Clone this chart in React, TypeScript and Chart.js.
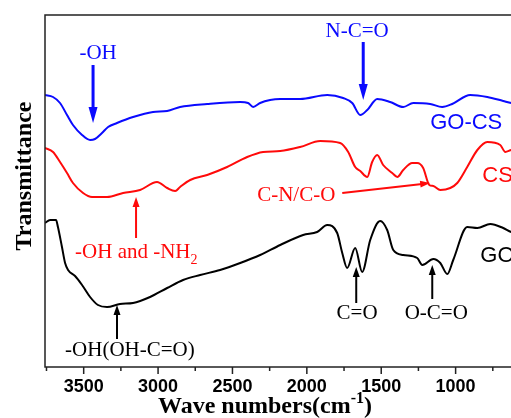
import React, { useEffect, useRef } from "react";
import { Chart, registerables } from "chart.js";
Chart.register(...registerables);

// ---- data (wave number in cm-1, transmittance in arbitrary units) ----
const waveGOCS = [3760, 3706, 3659, 3612, 3572, 3511, 3457, 3424, 3377, 3336, 3276, 3168, 3034, 2939, 2852, 2670, 2448, 2395, 2361, 2314, 2247, 2179, 2045, 1863, 1756, 1695, 1641, 1594, 1527, 1440, 1352, 1285, 1171, 1090, 1023, 902, 787, 680, 626, 565, 500];
const transGOCS = [272, 270, 264, 252, 242, 232, 227, 228, 234, 240, 244, 250, 255, 256, 260, 263, 265, 264, 260, 264, 267, 268, 268, 272, 269, 264, 252, 257, 268, 265, 260, 264, 263, 260, 263, 272, 270, 266, 264, 263, 262];

const waveCS = [3760, 3706, 3659, 3612, 3572, 3504, 3444, 3343, 3235, 3121, 3007, 2939, 2885, 2852, 2784, 2670, 2536, 2401, 2294, 2179, 2045, 1910, 1776, 1722, 1675, 1641, 1594, 1561, 1527, 1487, 1426, 1392, 1352, 1292, 1258, 1218, 1177, 1150, 1103, 1036, 989, 922, 854, 787, 700, 666, 626, 565, 500];
const transCS = [219, 215, 205, 194, 184, 174, 170, 170, 174, 177, 185, 179, 176, 180, 187, 192, 200, 210, 215, 216, 220, 226, 224, 215, 200, 196, 190, 205, 212, 202, 194, 190, 197, 204, 204, 199, 182, 181, 177, 179, 184, 200, 217, 225, 222, 215, 217, 218, 217];

const waveGO = [3760, 3726, 3686, 3673, 3646, 3625, 3605, 3558, 3511, 3457, 3404, 3343, 3256, 3168, 3054, 2939, 2832, 2717, 2583, 2448, 2314, 2179, 2025, 1931, 1863, 1796, 1762, 1729, 1675, 1628, 1574, 1507, 1460, 1419, 1352, 1258, 1224, 1150, 1103, 1056, 1016, 922, 854, 767, 680, 626, 565, 500];
const transGO = [144, 147, 147, 140, 120, 104, 97, 91, 82, 70, 62, 60, 63, 64, 70, 79, 87, 92, 97, 104, 112, 122, 132, 135, 142, 134, 114, 99, 119, 95, 127, 146, 137, 117, 112, 109, 102, 108, 104, 93, 107, 140, 139, 143, 139, 135, 134, 133];

const xTickValues = [3500, 3000, 2500, 2000, 1500, 1000, 500];
const xTickLabels = ["3500", "3000", "2500", "2000", "1500", "1000", "500"];
const xMinorTicks = [3750, 3250, 2750, 2250, 1750, 1250, 750];

const seriesNames = ["GO-CS", "CS", "GO"];

// ---- styles ----
const BLUE = "#0a0aff";
const RED = "#ff0a0a";
const BLACK = "#000000";
const SERIF = "'Liberation Serif', 'Times New Roman', serif";
const SANS = "'Liberation Sans', Arial, sans-serif";

type Part = { t: string; sub?: boolean; sup?: boolean };
type Label = { parts: Part[]; w: number; v: number; color: string; family: string; size: number; weight?: string; align: "left" | "center" };
type Arrow = { w1: number; v1: number; w2: number; v2: number; color: string; lw: number; head: number; headW: number };

const labels: Label[] = [
  { parts: [{ t: "-OH" }], w: 3403, v: 314, color: BLUE, family: SERIF, size: 21, align: "center" },
  { parts: [{ t: "N-C=O" }], w: 1662, v: 336, color: BLUE, family: SERIF, size: 21, align: "center" },
  { parts: [{ t: seriesNames[0] }], w: 1171, v: 244, color: BLUE, family: SANS, size: 22, align: "left" },
  { parts: [{ t: seriesNames[1] }], w: 821, v: 191, color: RED, family: SANS, size: 22, align: "left" },
  { parts: [{ t: seriesNames[2] }], w: 834, v: 111, color: BLACK, family: SANS, size: 22, align: "left" },
  { parts: [{ t: "C-N/C-O" }], w: 2334, v: 172, color: RED, family: SERIF, size: 21, align: "left" },
  { parts: [{ t: "-OH and -NH" }, { t: "2", sub: true }], w: 3558, v: 115, color: RED, family: SERIF, size: 21, align: "left" },
  { parts: [{ t: "-OH(OH-C=O)" }], w: 3625, v: 17, color: BLACK, family: SERIF, size: 21, align: "left" },
  { parts: [{ t: "C=O" }], w: 1662, v: 54, color: BLACK, family: SERIF, size: 21, align: "center" },
  { parts: [{ t: "O-C=O" }], w: 1130, v: 54, color: BLACK, family: SERIF, size: 21, align: "center" },
];

const arrows: Arrow[] = [
  { w1: 3437, v1: 302, w2: 3437, v2: 244, color: BLUE, lw: 3, head: 16, headW: 9 },
  { w1: 1621, v1: 325, w2: 1621, v2: 267, color: BLUE, lw: 3, head: 16, headW: 9 },
  { w1: 1762, v1: 174, w2: 1171, v2: 184, color: RED, lw: 2, head: 10, headW: 7 },
  { w1: 3148, v1: 129, w2: 3148, v2: 170, color: RED, lw: 2, head: 10, headW: 7 },
  { w1: 3276, v1: 28, w2: 3276, v2: 62, color: BLACK, lw: 2, head: 10, headW: 7 },
  { w1: 1668, v1: 64, w2: 1668, v2: 100, color: BLACK, lw: 2, head: 10, headW: 7 },
  { w1: 1157, v1: 68, w2: 1157, v2: 102, color: BLACK, lw: 2, head: 10, headW: 7 },
];

function toPoints(xs: number[], ys: number[]) {
  return xs.map((x, i) => ({ x, y: ys[i] }));
}

function drawRich(ctx: CanvasRenderingContext2D, parts: Part[], x: number, y: number, align: "left" | "center", family: string, size: number, weight: string, color: string) {
  const fontFor = (p: Part) => `${weight} ${p.sub || p.sup ? Math.round(size * 0.65) : size}px ${family}`;
  let total = 0;
  const widths = parts.map((p) => {
    ctx.font = fontFor(p);
    const wd = ctx.measureText(p.t).width;
    total += wd;
    return wd;
  });
  let cx = align === "center" ? x - total / 2 : x;
  ctx.fillStyle = color;
  ctx.textBaseline = "middle";
  ctx.textAlign = "left";
  parts.forEach((p, i) => {
    ctx.font = fontFor(p);
    const dy = p.sub ? size * 0.38 : p.sup ? -size * 0.35 : 0;
    ctx.fillText(p.t, cx, y + dy);
    cx += widths[i];
  });
}

function drawArrow(ctx: CanvasRenderingContext2D, x1: number, y1: number, x2: number, y2: number, color: string, lw: number, head: number, headW: number) {
  const ang = Math.atan2(y2 - y1, x2 - x1);
  const bx = x2 - Math.cos(ang) * head;
  const by = y2 - Math.sin(ang) * head;
  ctx.save();
  ctx.strokeStyle = color;
  ctx.fillStyle = color;
  ctx.lineWidth = lw;
  ctx.beginPath();
  ctx.moveTo(x1, y1);
  ctx.lineTo(bx + Math.cos(ang) * 2, by + Math.sin(ang) * 2);
  ctx.stroke();
  const px = (-Math.sin(ang) * headW) / 2;
  const py = (Math.cos(ang) * headW) / 2;
  ctx.beginPath();
  ctx.moveTo(x2, y2);
  ctx.lineTo(bx + px, by + py);
  ctx.lineTo(bx - px, by - py);
  ctx.closePath();
  ctx.fill();
  ctx.restore();
}

const framePlugin = {
  id: "frame",
  afterDraw(chart: any) {
    const { ctx, chartArea } = chart;
    const xs = chart.scales.x;
    ctx.save();
    ctx.strokeStyle = "#222";
    ctx.lineWidth = 1.5;
    ctx.strokeRect(chartArea.left, chartArea.top, chartArea.right - chartArea.left, chartArea.bottom - chartArea.top);
    ctx.beginPath();
    xMinorTicks.forEach((v) => {
      const px = xs.getPixelForValue(v);
      ctx.moveTo(px, chartArea.bottom);
      ctx.lineTo(px, chartArea.bottom + 4);
    });
    xTickValues.forEach((v) => {
      const px = xs.getPixelForValue(v);
      ctx.moveTo(px, chartArea.bottom);
      ctx.lineTo(px, chartArea.bottom + 7);
    });
    ctx.stroke();
    ctx.fillStyle = "#000";
    ctx.font = `bold 18px ${SANS}`;
    ctx.textAlign = "center";
    ctx.textBaseline = "middle";
    xTickValues.forEach((v, i) => {
      ctx.fillText(xTickLabels[i], xs.getPixelForValue(v), chartArea.bottom + 20);
    });
    ctx.restore();
  },
};

const annotationPlugin = {
  id: "annotations",
  afterDraw(chart: any) {
    const { ctx } = chart;
    const xs = chart.scales.x;
    const ys = chart.scales.y;
    ctx.save();
    arrows.forEach((a) => {
      drawArrow(ctx, xs.getPixelForValue(a.w1), ys.getPixelForValue(a.v1), xs.getPixelForValue(a.w2), ys.getPixelForValue(a.v2), a.color, a.lw, a.head, a.headW);
    });
    labels.forEach((l) => {
      drawRich(ctx, l.parts, xs.getPixelForValue(l.w), ys.getPixelForValue(l.v), l.align, l.family, l.size, l.weight || "normal", l.color);
    });
    // axis titles
    drawRich(ctx, [{ t: "Wave numbers(cm" }, { t: "-1", sup: true }, { t: ")" }], 158, 407, "left", SERIF, 24, "bold", BLACK);
    ctx.save();
    ctx.translate(25, 176);
    ctx.rotate(-Math.PI / 2);
    drawRich(ctx, [{ t: "Transmittance" }], 0, 0, "center", SERIF, 24, "bold", BLACK);
    ctx.restore();
    ctx.restore();
  },
};

export default function App() {
  const ref = useRef<HTMLCanvasElement>(null);
  useEffect(() => {
    if (!ref.current) return;
    const lineDs = (label: string, xs: number[], ys: number[], color: string) => ({
      label,
      data: toPoints(xs, ys),
      borderColor: color,
      backgroundColor: color,
      borderWidth: 2,
      pointRadius: 0,
      cubicInterpolationMode: "monotone" as const,
      fill: false,
    });
    const chart = new Chart(ref.current, {
      type: "line",
      data: {
        datasets: [
          lineDs(seriesNames[0], waveGOCS, transGOCS, BLUE),
          lineDs(seriesNames[1], waveCS, transCS, RED),
          lineDs(seriesNames[2], waveGO, transGO, BLACK),
        ],
      },
      options: {
        animation: false,
        responsive: false,
        events: [],
        layout: { padding: { left: 0, right: 10, top: 15, bottom: 0 } },
        plugins: { legend: { display: false }, tooltip: { enabled: false } },
        scales: {
          x: {
            type: "linear",
            reverse: true,
            min: 500,
            max: 3760,
            afterFit: (s: any) => {
              s.height = 51;
            },
            ticks: { display: false },
            grid: { display: false },
            border: { display: false },
          },
          y: {
            min: 0,
            max: 352,
            afterFit: (s: any) => {
              s.width = 45;
            },
            ticks: { display: false },
            grid: { display: false },
            border: { display: false },
          },
        },
      } as any,
      plugins: [framePlugin, annotationPlugin],
    });
    return () => chart.destroy();
  }, []);
  return (
    <div style={{ position: "fixed", left: 0, top: 0, width: 511, height: 418, overflow: "hidden", background: "#fff" }}>
      <canvas ref={ref} width={540} height={418} style={{ display: "block" }} />
    </div>
  );
}
